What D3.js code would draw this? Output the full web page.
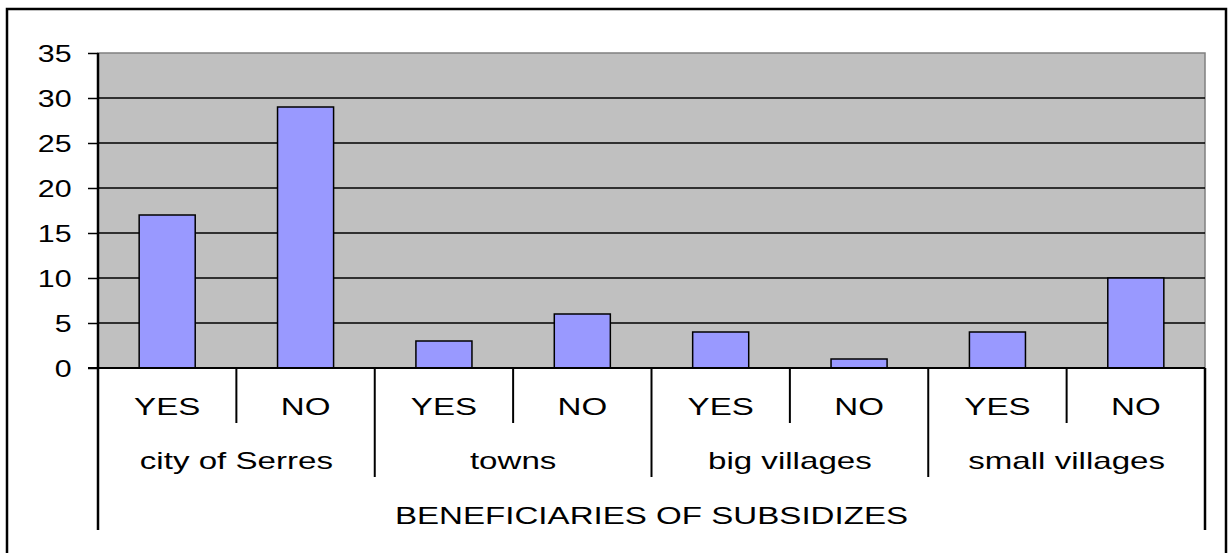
<!DOCTYPE html>
<html>
<head>
<meta charset="utf-8">
<script src="https://cdn.jsdelivr.net/npm/d3@7"></script>
<style>
  body { margin: 0; background: #fff; }
  svg { display: block; }
  text { font-family: "Liberation Sans", Arial, sans-serif; fill: #000; }
</style>
</head>
<body>
<div class="graph"></div>
<script>
// chart data
let groups = ["city of Serres", "towns", "big villages", "small villages"];
let answers = ["YES", "NO"];
let values = [17, 29, 3, 6, 4, 1, 4, 10];
let yTicks = [0, 5, 10, 15, 20, 25, 30, 35];
let axisTitle = "BENEFICIARIES OF SUBSIDIZES";

let w = 1228;
let h = 553;
let plotLeft = 98, plotRight = 1205, plotTop = 53, plotBottom = 368;
let tickStretch = 1.32;
let labelStretch = 1.44;

let svgvar = d3
  .select(".graph")
  .append("svg")
  .attr("width", w)
  .attr("height", h);

// outer frame
svgvar
  .append("rect")
  .attr("x", 7)
  .attr("y", 9)
  .attr("width", 1219)
  .attr("height", 560)
  .attr("fill", "#fff")
  .attr("stroke", "#000")
  .attr("stroke-width", 2.5);

let bars = values.map(function (v, i) {
  return { id: i, value: v, answer: answers[i % 2], group: groups[Math.floor(i / 2)] };
});

let xScale = d3
  .scaleBand()
  .domain(bars.map((d) => d.id))
  .range([plotLeft, plotRight])
  .paddingInner(0.595)
  .paddingOuter(0.2975);
let gScale = d3.scaleBand().domain(groups).range([plotLeft, plotRight]);
let yScale = d3.scaleLinear().domain([0, 35]).range([plotBottom, plotTop]);

// plot area
svgvar
  .append("rect")
  .attr("x", plotLeft)
  .attr("y", plotTop)
  .attr("width", plotRight - plotLeft)
  .attr("height", plotBottom - plotTop)
  .attr("fill", "#c0c0c0")
  .attr("stroke", "#808080")
  .attr("stroke-width", 1.5);

// gridlines
svgvar
  .append("g")
  .selectAll("line")
  .data(yTicks.filter((t) => t > 0 && t < 35))
  .enter()
  .append("line")
  .attr("x1", plotLeft)
  .attr("x2", plotRight)
  .attr("y1", (d) => yScale(d))
  .attr("y2", (d) => yScale(d))
  .attr("stroke", "#000")
  .attr("stroke-width", 1.5);

// y axis
let yAxis = d3.axisLeft(yScale).tickValues(yTicks).tickSize(10).tickSizeOuter(0).tickPadding(0);
let yg = svgvar
  .append("g")
  .attr("transform", "translate(" + plotLeft + ",0)")
  .call(yAxis);
yg.select(".domain").remove();
yg.selectAll(".tick line").attr("stroke", "#000").attr("stroke-width", 1.5);
yg.selectAll(".tick text")
  .attr("x", -20)
  .attr("dy", "0.35em")
  .attr("transform", "scale(" + tickStretch + ",1)")
  .style("font-size", "23px")
  .style("font-family", "'Liberation Sans', Arial, sans-serif")
  .attr("fill", "#000");

// bars
svgvar
  .append("g")
  .selectAll("rect")
  .data(bars)
  .enter()
  .append("rect")
  .attr("x", (d) => xScale(d.id))
  .attr("y", (d) => yScale(d.value))
  .attr("width", xScale.bandwidth())
  .attr("height", (d) => yScale(0) - yScale(d.value))
  .attr("fill", "#9999ff")
  .attr("stroke", "#000")
  .attr("stroke-width", 1.5);

// baseline and side lines
svgvar
  .append("line")
  .attr("x1", plotLeft - 10)
  .attr("x2", plotRight)
  .attr("y1", plotBottom)
  .attr("y2", plotBottom)
  .attr("stroke", "#000")
  .attr("stroke-width", 2);
svgvar
  .append("line")
  .attr("x1", plotLeft)
  .attr("x2", plotLeft)
  .attr("y1", plotTop)
  .attr("y2", 530)
  .attr("stroke", "#000")
  .attr("stroke-width", 2.5);
svgvar
  .append("line")
  .attr("x1", plotRight)
  .attr("x2", plotRight)
  .attr("y1", plotBottom)
  .attr("y2", 530)
  .attr("stroke", "#000")
  .attr("stroke-width", 2.5);

// category dividers
let step = xScale.step();
svgvar
  .append("g")
  .selectAll("line")
  .data(bars.filter((d) => d.id % 2 === 1))
  .enter()
  .append("line")
  .attr("x1", (d) => xScale(d.id) - xScale.paddingInner() * step / 2)
  .attr("x2", (d) => xScale(d.id) - xScale.paddingInner() * step / 2)
  .attr("y1", plotBottom)
  .attr("y2", 423)
  .attr("stroke", "#000")
  .attr("stroke-width", 2);
svgvar
  .append("g")
  .selectAll("line")
  .data(groups.slice(1))
  .enter()
  .append("line")
  .attr("x1", (d) => gScale(d))
  .attr("x2", (d) => gScale(d))
  .attr("y1", plotBottom)
  .attr("y2", 477)
  .attr("stroke", "#000")
  .attr("stroke-width", 2);

function label(x, y, txt) {
  svgvar
    .append("text")
    .attr("transform", "translate(" + x + "," + y + ") scale(" + labelStretch + ",1)")
    .attr("text-anchor", "middle")
    .style("font-size", "23px")
    .text(txt);
}

bars.forEach(function (d) {
  label(xScale(d.id) + xScale.bandwidth() / 2, 415, d.answer);
});
groups.forEach(function (g) {
  label(gScale(g) + gScale.bandwidth() / 2, 469, g);
});
label((plotLeft + plotRight) / 2, 524, axisTitle);
</script>
</body>
</html>
